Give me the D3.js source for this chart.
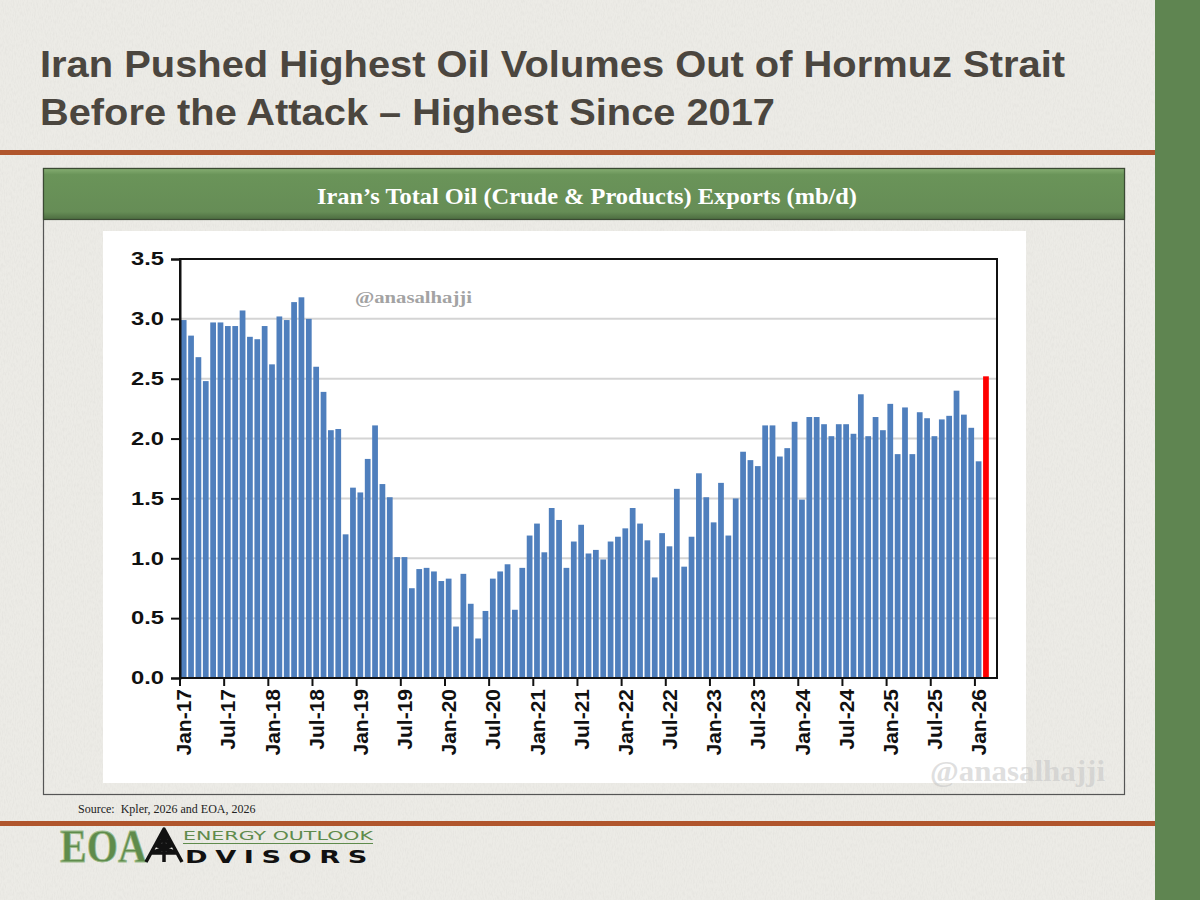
<!DOCTYPE html>
<html>
<head>
<meta charset="utf-8">
<script src="https://cdn.jsdelivr.net/npm/d3@7"></script>
<style>
  html, body { margin: 0; padding: 0; background: #ecebe6; }
  svg { display: block; }
</style>
</head>
<body>
<div id="chart"></div>
<script>
// Iran total oil exports, mb/d, monthly
const exports2017 = [2.99, 2.86, 2.68, 2.48, 2.97, 2.97, 2.94, 2.94, 3.07, 2.85, 2.83, 2.94];
const exports2018 = [2.62, 3.02, 2.99, 3.14, 3.18, 3.00, 2.60, 2.39, 2.07, 2.08, 1.20, 1.59];
const exports2019 = [1.55, 1.83, 2.11, 1.62, 1.51, 1.01, 1.01, 0.75, 0.91, 0.92, 0.89, 0.81];
const exports2020 = [0.83, 0.43, 0.87, 0.62, 0.33, 0.56, 0.83, 0.89, 0.95, 0.57, 0.92, 1.19];
const exports2021 = [1.29, 1.05, 1.42, 1.32, 0.92, 1.14, 1.28, 1.04, 1.07, 0.99, 1.14, 1.18];
const exports2022 = [1.25, 1.42, 1.29, 1.15, 0.84, 1.21, 1.10, 1.58, 0.93, 1.18, 1.71, 1.51];
const exports2023 = [1.30, 1.63, 1.19, 1.50, 1.89, 1.82, 1.77, 2.11, 2.11, 1.85, 1.92, 2.14];
const exports2024 = [1.49, 2.18, 2.18, 2.12, 2.02, 2.12, 2.12, 2.04, 2.37, 2.02, 2.18, 2.07];
const exports2025 = [2.29, 1.87, 2.26, 1.87, 2.22, 2.17, 2.02, 2.16, 2.19, 2.40, 2.20, 2.09];
const exports2026 = [1.81, 2.52];

const yTickValues = [0, 0.5, 1.0, 1.5, 2.0, 2.5, 3.0, 3.5];

const values = [].concat(exports2017, exports2018, exports2019, exports2020,
    exports2021, exports2022, exports2023, exports2024, exports2025, exports2026);

// axis runs one empty month past the last bar
const months = d3.timeMonth.range(new Date(2017, 0, 1), new Date(2026, 3, 1));
const fmt = d3.timeFormat('%b-%y');

const dataset = values.map((v, i) => ({ month: months[i], value: v, last: i === values.length - 1 }));

const W = 1200, H = 900;
const svg = d3.select('#chart').append('svg')
    .attr('width', W)
    .attr('height', H);

const defs = svg.append('defs');

// faint paper texture for the slide background
const paper = defs.append('filter').attr('id', 'paper').attr('x', 0).attr('y', 0).attr('width', '100%').attr('height', '100%');
paper.append('feTurbulence').attr('type', 'fractalNoise').attr('baseFrequency', '0.9 0.25').attr('numOctaves', 2).attr('seed', 3);
paper.append('feColorMatrix').attr('type', 'matrix')
    .attr('values', '0 0 0 0 0.55  0 0 0 0 0.54  0 0 0 0 0.52  0 0 0 -0.9 0.55');

// page background + side band
svg.append('rect').attr('width', W).attr('height', H).attr('fill', '#ecebe6');
svg.append('rect').attr('width', 1155).attr('height', H).attr('filter', 'url(#paper)').attr('opacity', 0.35);
svg.append('rect').attr('x', 1155).attr('y', 0).attr('width', 45).attr('height', H).attr('fill', '#5f8551');

// title
const title = svg.append('g')
    .attr('font-family', '"Liberation Sans", Arial, sans-serif')
    .attr('font-weight', 'bold')
    .attr('font-size', 37)
    .attr('fill', '#4b463f');
title.append('text').attr('x', 40).attr('y', 77)
    .attr('textLength', 1025).attr('lengthAdjust', 'spacingAndGlyphs')
    .text('Iran Pushed Highest Oil Volumes Out of Hormuz Strait');
title.append('text').attr('x', 40).attr('y', 125)
    .attr('textLength', 735).attr('lengthAdjust', 'spacingAndGlyphs')
    .text('Before the Attack \u2013 Highest Since 2017');

// rules
svg.append('rect').attr('x', 0).attr('y', 150).attr('width', 1155).attr('height', 5).attr('fill', '#b0552c');
svg.append('rect').attr('x', 0).attr('y', 821).attr('width', 1155).attr('height', 5).attr('fill', '#b0552c');

// frame
svg.append('rect')
    .attr('x', 43.5).attr('y', 168.5).attr('width', 1081).attr('height', 626)
    .attr('fill', 'none').attr('stroke', '#555').attr('stroke-width', 1.2);

// green header
const grad = defs.append('linearGradient').attr('id', 'hdr').attr('x1', 0).attr('y1', 0).attr('x2', 0).attr('y2', 1);
grad.append('stop').attr('offset', '0%').attr('stop-color', '#86ae72');
grad.append('stop').attr('offset', '12%').attr('stop-color', '#6a9459');
grad.append('stop').attr('offset', '85%').attr('stop-color', '#668d56');
grad.append('stop').attr('offset', '100%').attr('stop-color', '#4c6c40');
svg.append('rect')
    .attr('x', 43.5).attr('y', 168.5).attr('width', 1081).attr('height', 51)
    .attr('fill', 'url(#hdr)').attr('stroke', '#3b4a33').attr('stroke-width', 1.2);
svg.append('text')
    .attr('x', 587).attr('y', 204)
    .attr('text-anchor', 'middle')
    .attr('font-family', '"Liberation Serif", "DejaVu Serif", serif')
    .attr('font-weight', 'bold')
    .attr('font-size', 23)
    .attr('fill', '#ffffff')
    .attr('textLength', 540).attr('lengthAdjust', 'spacingAndGlyphs')
    .text('Iran\u2019s Total Oil (Crude & Products) Exports (mb/d)');

// white chart panel
svg.append('rect').attr('x', 103).attr('y', 231).attr('width', 923).attr('height', 552).attr('fill', '#ffffff');

const plot = { left: 180, right: 997, top: 259, bottom: 678 };

const x = d3.scaleBand()
    .domain(months)
    .range([plot.left, plot.right])
    .paddingInner(0.22)
    .paddingOuter(0.11);

const y = d3.scaleLinear()
    .domain([0, 3.5])
    .range([plot.bottom, plot.top]);

// gridlines
svg.append('g')
    .selectAll('line')
    .data(yTickValues.filter(d => d > 0 && d < 3.5))
    .join('line')
    .attr('x1', plot.left).attr('x2', plot.right)
    .attr('y1', d => y(d)).attr('y2', d => y(d))
    .attr('stroke', '#d4d4d4').attr('stroke-width', 2);

// bars
svg.append('g')
    .selectAll('rect')
    .data(dataset)
    .join('rect')
    .attr('x', d => x(d.month))
    .attr('width', x.bandwidth())
    .attr('y', d => y(d.value))
    .attr('height', d => y(0) - y(d.value))
    .attr('fill', d => d.last ? '#ff0000' : '#4f7fbd');

// plot border
svg.append('rect')
    .attr('x', plot.left).attr('y', plot.top)
    .attr('width', plot.right - plot.left).attr('height', plot.bottom - plot.top)
    .attr('fill', 'none').attr('stroke', '#111').attr('stroke-width', 2);

// y axis
const yAxis = d3.axisLeft(y)
    .tickValues(yTickValues)
    .tickSize(9)
    .tickPadding(7)
    .tickFormat(d3.format('.1f'));
const yg = svg.append('g')
    .attr('transform', `translate(${plot.left},0)`)
    .call(yAxis);
yg.select('.domain').attr('stroke', '#111').attr('stroke-width', 2);
yg.selectAll('.tick line').attr('stroke', '#111').attr('stroke-width', 2);
yg.selectAll('.tick text')
    .attr('font-family', '"Liberation Sans", Arial, sans-serif')
    .attr('font-weight', 'bold')
    .attr('font-size', 18)
    .attr('fill', '#111')
    .attr('textLength', 33).attr('lengthAdjust', 'spacingAndGlyphs');

// x axis: ticks on month boundaries every six months, labels on bar centres
const labelMonths = months.filter((d, i) => i % 6 === 0);
const step = x.step();
const xg = svg.append('g');
xg.append('line')
    .attr('x1', plot.left).attr('x2', plot.right)
    .attr('y1', plot.bottom).attr('y2', plot.bottom)
    .attr('stroke', '#111').attr('stroke-width', 2);
xg.selectAll('line.tick')
    .data(labelMonths)
    .join('line')
    .attr('class', 'tick')
    .attr('x1', d => x(d) - step * x.paddingInner() / 2)
    .attr('x2', d => x(d) - step * x.paddingInner() / 2)
    .attr('y1', plot.bottom).attr('y2', plot.bottom + 8)
    .attr('stroke', '#111').attr('stroke-width', 2);
xg.selectAll('text')
    .data(labelMonths)
    .join('text')
    .attr('transform', d => `translate(${x(d) + x.bandwidth() / 2},${plot.bottom + 11}) rotate(-90)`)
    .attr('text-anchor', 'end')
    .attr('dy', '0.36em')
    .attr('font-family', '"Liberation Sans", Arial, sans-serif')
    .attr('font-weight', 'bold')
    .attr('font-size', 21)
    .attr('fill', '#111')
    .text(d => fmt(d));

// watermarks
svg.append('text')
    .attr('x', 355).attr('y', 303)
    .attr('font-family', '"Liberation Serif", "DejaVu Serif", serif')
    .attr('font-weight', 'bold')
    .attr('font-size', 17)
    .attr('fill', '#a3a3a3')
    .attr('textLength', 117).attr('lengthAdjust', 'spacingAndGlyphs')
    .text('@anasalhajji');
svg.append('text')
    .attr('x', 930).attr('y', 781)
    .attr('font-family', '"Liberation Serif", "DejaVu Serif", serif')
    .attr('font-weight', 'bold')
    .attr('font-size', 29)
    .attr('fill', '#c4c4c4')
    .attr('fill-opacity', 0.55)
    .attr('textLength', 175).attr('lengthAdjust', 'spacingAndGlyphs')
    .text('@anasalhajji');

// source
svg.append('text')
    .attr('x', 78).attr('y', 813)
    .attr('font-family', '"Liberation Serif", "Times New Roman", serif')
    .attr('font-size', 12)
    .attr('fill', '#222')
    .attr('xml:space', 'preserve')
    .text('Source:  Kpler, 2026 and EOA, 2026');

// logo
const logo = svg.append('g');
logo.append('text')
    .attr('x', 60).attr('y', 862)
    .attr('font-family', '"Liberation Serif", "Times New Roman", serif')
    .attr('font-weight', 'bold')
    .attr('font-size', 46)
    .attr('fill', '#5f8b4c')
    .attr('stroke', '#9dbd8d').attr('stroke-width', 0.8)
    .attr('textLength', 87).attr('lengthAdjust', 'spacingAndGlyphs')
    .text('EOA');
const tower = d3.path();
tower.moveTo(146, 862); tower.lineTo(164, 829); tower.lineTo(182, 862);
tower.moveTo(151, 853); tower.lineTo(177, 853);
tower.moveTo(155, 845); tower.lineTo(173, 845);
tower.moveTo(151, 853); tower.lineTo(173, 845);
tower.moveTo(177, 853); tower.lineTo(155, 845);
tower.moveTo(155, 845); tower.lineTo(168, 837);
tower.moveTo(173, 845); tower.lineTo(160, 837);
tower.moveTo(164, 829); tower.lineTo(164, 862);
logo.append('path').attr('d', tower.toString())
    .attr('fill', 'none').attr('stroke', '#111').attr('stroke-width', 3.5).attr('stroke-linejoin', 'round');
logo.append('text')
    .attr('x', 183).attr('y', 840)
    .attr('font-family', '"DejaVu Sans", sans-serif')
    .attr('font-size', 13)
    .attr('fill', '#5f8b4c')
    .attr('textLength', 190).attr('lengthAdjust', 'spacingAndGlyphs')
    .text('ENERGY OUTLOOK');
logo.append('line')
    .attr('x1', 183).attr('x2', 373).attr('y1', 843.5).attr('y2', 843.5)
    .attr('stroke', '#5f8b4c').attr('stroke-width', 1.2);
logo.append('text')
    .attr('x', 185).attr('y', 863)
    .attr('font-family', '"DejaVu Sans", sans-serif')
    .attr('font-weight', 'bold')
    .attr('font-size', 18)
    .attr('letter-spacing', 5)
    .attr('fill', '#111')
    .attr('textLength', 190).attr('lengthAdjust', 'spacingAndGlyphs')
    .text('DVISORS');
</script>
</body>
</html>
